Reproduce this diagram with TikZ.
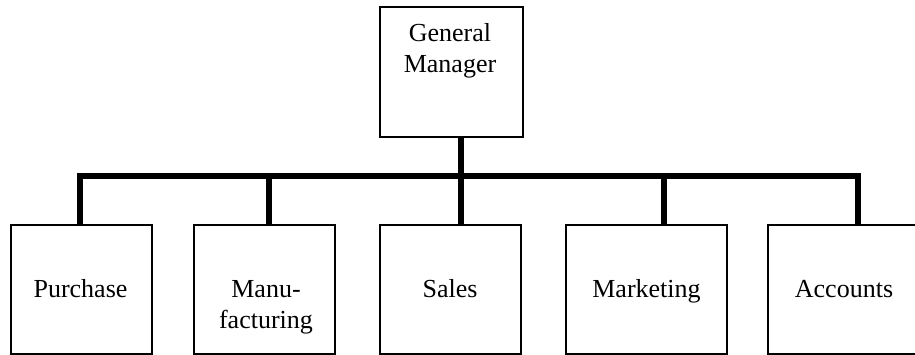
\documentclass[tikz,border=0pt]{standalone}
\usepackage{fontspec}
\setmainfont{Liberation Serif}
\begin{document}
\begin{tikzpicture}[x=1pt,y=-1pt,
  unitbox/.style={draw=black,line width=1.2pt,rectangle,inner sep=0pt,outer sep=0pt,anchor=north west},
  lbl/.style={inner sep=0pt,anchor=base,align=center,font=\fontsize{26}{31}\selectfont},
  bus/.style={line width=6pt,line join=miter}]
\clip (0,0) rectangle (915,355);
\fill[white] (0,0) rectangle (915,355);

% boxes
\node[unitbox,minimum width=143pt,minimum height=130pt] (gm)  at (380,7)   {};
\node[unitbox,minimum width=141pt,minimum height=129pt] (pur) at (11,225)  {};
\node[unitbox,minimum width=141pt,minimum height=129pt] (man) at (194,225) {};
\node[unitbox,minimum width=141pt,minimum height=129pt] (sal) at (380,225) {};
\node[unitbox,minimum width=161pt,minimum height=129pt] (mkt) at (566,225) {};
\node[unitbox,minimum width=152pt,minimum height=129pt] (acc) at (768,225) {};

% labels (base anchor sits on the last line's baseline)
\node[lbl] (gmtxt)  at (450,73)    {General\\Manager};
\node[lbl] (purtxt) at (80.5,297)  {Purchase};
\node[lbl] (mantxt) at (266,328)   {Manu-\\facturing};
\node[lbl] (saltxt) at (450,297)   {Sales};
\node[lbl] (mkttxt) at (646.5,297) {Marketing};
\node[lbl] (acctxt) at (844,297)   {Accounts};

% connector bus
\coordinate (busL) at (80,176);
\coordinate (busM) at (269,176);
\coordinate (hub)  at (461,176);
\coordinate (busK) at (664,176);
\coordinate (busR) at (858,176);
\draw[bus] (pur.north -| busL) -- (busL) -- (busR) -- (acc.north -| busR);
\draw[bus] (gm.south -| hub) -- (sal.north -| hub);
\draw[bus] (busM) -- (man.north -| busM);
\draw[bus] (busK) -- (mkt.north -| busK);
\end{tikzpicture}
\end{document}
